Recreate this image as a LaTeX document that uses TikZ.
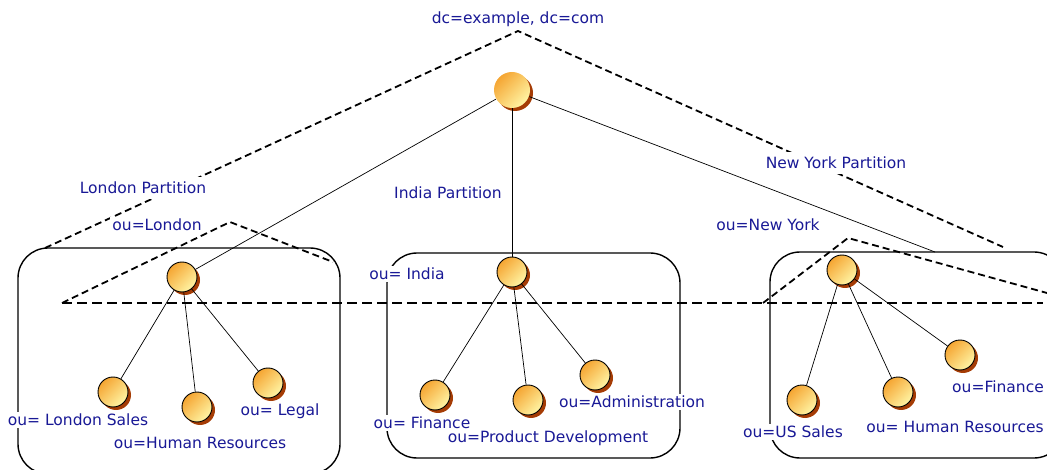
\documentclass[tikz,border=0pt]{standalone}
\usepackage{fontspec}
\setmainfont{DejaVu Sans}
\usepackage{xcolor}
\usepackage{tikz}
\usetikzlibrary{shapes,arrows,positioning,shadows}

\definecolor{ldapblue}{RGB}{25,25,150}
\definecolor{ballorange}{RGB}{245,165,50}
\definecolor{ballyellow}{RGB}{255,245,165}
\definecolor{ballshadow}{RGB}{165,60,5}

\begin{document}
\begin{tikzpicture}[
        x=1pt, y=-1pt,
        entry/.style={
            circle, draw=black, line width=0.9pt,
            minimum size=30pt, inner sep=0pt,
            top color=ballorange, bottom color=ballyellow, shading angle=45,
            drop shadow={shadow xshift=3pt, shadow yshift=-3pt, fill=ballshadow, opacity=1}
        },
        rootentry/.style={entry, draw=none, minimum size=36pt},
        ldaptext/.style={text=ldapblue, font=\fontsize{15.5}{17}\selectfont, fill=white, inner sep=2pt},
        partition/.style={line width=1.8pt, dash pattern=on 7pt off 4pt},
        container/.style={line width=1.4pt, rounded corners=30pt},
        link/.style={line width=0.7pt}
    ]

                \useasboundingbox (0,0) rectangle (1047,470);

                \draw[container] (18,248) rectangle (340,474);
                \draw[container] (387,253) rectangle (680,458);
                \draw[container] (770,252) rectangle (1064,458);

                \coordinate (apex) at (518,31);
                \coordinate (lpend) at (45,248);
                \coordinate (nypend) at (1003,247);
                \coordinate (cutl) at (62,303);
                \coordinate (cutr) at (1043,303);
                \coordinate (ltop) at (230,222);
                \coordinate (lend) at (333,262);
                \coordinate (nleft) at (763,303);
                \coordinate (ntop) at (848,238);
                \coordinate (nright) at (1047,293);
                \coordinate (nyhook) at (935,252);

                \draw[partition] (lpend) -- (apex) -- (nypend);
                \draw[partition] (cutl) -- (ltop) -- (lend);
                \draw[partition] (nleft) -- (ntop) -- (nright);
                \draw[
                    partition,
                    line width=2.2pt,
                    dash pattern=on 10pt off 5pt
                ] (cutl) -- (cutr);

                \node[rootentry] (root) at (512,90) {};

                \node[entry] (london) at (182,277) {};
                \node[entry] (lsales) at (113,392) {};
                \node[entry] (lhr) at (197,407) {};
                \node[entry] (llegal) at (268,383) {};

                \node[entry] (india) at (512,272) {};
                \node[entry] (ifinance) at (435,395) {};
                \node[entry] (iproduct) at (528,400) {};
                \node[entry] (iadmin) at (595,375) {};

                \node[entry] (newyork) at (842,270) {};
                \node[entry] (nsales) at (802,400) {};
                \node[entry] (nhr) at (898,392) {};
                \node[entry] (nfinance) at (960,355) {};

                \draw[link] (root) -- (london);
                \draw[link] (root) -- (india);
                \draw[link] (root) -- (nyhook);

                \draw[link] (london) -- (lsales);
                \draw[link] (london) -- (lhr);
                \draw[link] (london) -- (llegal);
                \draw[link] (india) -- (ifinance);
                \draw[link] (india) -- (iproduct);
                \draw[link] (india) -- (iadmin);
                \draw[link] (newyork) -- (nsales);
                \draw[link] (newyork) -- (nhr);
                \draw[link] (newyork) -- (nfinance);

                \node[ldaptext] (dn) at (518,19) {dc=example, dc=com};
                \node[ldaptext, inner sep=5pt] (lpart) at (143,188) {London Partition};
                \node[ldaptext] (ipart) at (448,193) {India Partition};
                \node[ldaptext, inner sep=5pt] (npart) at (836,163) {New York Partition};

                \node[ldaptext] (lname) at (157,225) {ou=London};
                \node[ldaptext] (iname) at (407,274) {ou= India};
                \node[ldaptext] (nname) at (768,225) {ou=New York};

                \node[ldaptext] (lsalesname) at (78,420) {ou= London Sales};
                \node[ldaptext] (lhrname) at (200,443) {ou=Human Resources};
                \node[ldaptext] (llegalname) at (280,411) {ou= Legal};

                \node[ldaptext] (ifinname) at (422,423) {ou= Finance};
                \node[ldaptext] (iprodname) at (548,438) {ou=Product Development};
                \node[ldaptext] (iadminname) at (632,402) {ou=Administration};

                \node[ldaptext] (nsalesname) at (793,432) {ou=US Sales};
                \node[ldaptext] (nhrname) at (955,427) {ou= Human Resources};
                \node[ldaptext] (nfinname) at (998,387) {ou=Finance};

\end{tikzpicture}
\end{document}
